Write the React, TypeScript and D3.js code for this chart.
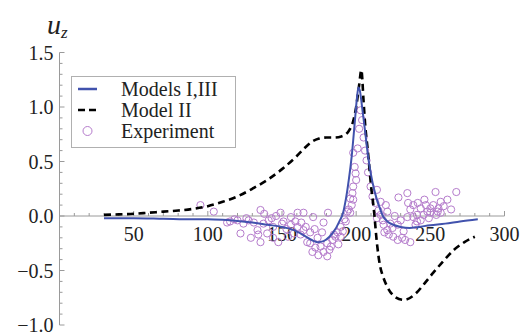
import * as d3 from "d3";

// Models I,III (solid blue)
const blueX = [30, 50, 70, 90, 100, 110, 120, 130, 140, 150, 158, 165, 170, 174, 178, 182, 186, 189, 191, 193, 195, 197, 199, 200.5, 201.5, 202.5, 204, 206, 208, 210, 212, 214, 216, 218, 221, 225, 230, 236, 242, 250, 260, 270, 282];
const blueY = [-0.02, -0.02, -0.025, -0.03, -0.03, -0.035, -0.045, -0.06, -0.08, -0.1, -0.13, -0.18, -0.22, -0.24, -0.23, -0.19, -0.12, -0.04, 0.02, 0.15, 0.33, 0.55, 0.85, 1.08, 1.18, 1.15, 1.0, 0.78, 0.55, 0.38, 0.25, 0.15, 0.07, 0.0, -0.05, -0.08, -0.1, -0.11, -0.1, -0.085, -0.07, -0.05, -0.03];

// Model II (dashed black)
const dashX = [30, 40, 50, 60, 70, 80, 90, 100, 110, 120, 130, 140, 150, 160, 165, 170, 175, 180, 185, 190, 195, 198, 200, 202, 203.5, 205, 206, 208, 210, 212, 214, 216, 218, 221, 226, 232, 241, 246, 252, 259, 266, 273, 280];
const dashY = [0.01, 0.015, 0.02, 0.03, 0.04, 0.05, 0.065, 0.09, 0.13, 0.18, 0.25, 0.33, 0.43, 0.55, 0.62, 0.68, 0.71, 0.72, 0.72, 0.73, 0.78, 0.87, 1.0, 1.2, 1.34, 1.05, 0.85, 0.58, 0.28, 0.05, -0.25, -0.45, -0.55, -0.65, -0.74, -0.77, -0.7, -0.62, -0.52, -0.41, -0.31, -0.24, -0.19];

// Experiment (open circles)
const expX = [95, 104, 113, 115, 118, 120, 122, 124, 126, 127.5, 129, 131, 133.5, 134, 135.5, 135.5, 137.5, 138, 140, 141, 143, 144, 144, 146, 147.5, 149, 150, 151, 153, 154, 156, 156, 158, 159, 160.5, 160.5, 162.5, 163, 164.5, 164.5, 166, 167, 169, 169, 170.5, 171, 172, 172.5, 174, 174.5, 176, 177, 178, 178, 180.5, 180.5, 181, 182, 183, 184, 185, 186, 187.5, 188, 189.5, 189.5, 191, 192, 193, 194, 195, 196, 196, 197, 197.5, 198, 198, 198, 199, 199.6, 200, 201, 202, 203, 204, 205, 206, 207, 208, 209.7, 211, 213, 214, 214, 215, 216.5, 216.5, 218, 218.5, 219, 220, 221, 221, 222, 223, 224.5, 225, 226, 228, 228, 228.5, 230, 231, 232, 233, 234.5, 234.5, 235, 236.5, 236.5, 238.5, 238.5, 240, 241, 241, 241.5, 243.5, 243.5, 245.5, 246, 247, 248, 249, 250, 250, 252, 253.5, 254, 255, 255.5, 257, 257, 259, 261.5, 264, 267.5];
const expY = [0.1, 0.04, -0.06, -0.05, -0.03, -0.04, -0.16, -0.07, -0.02, -0.04, -0.2, -0.06, -0.13, -0.17, 0.055, -0.24, -0.07, 0.02, -0.16, -0.04, -0.02, -0.1, -0.2, 0.0, -0.24, 0.03, -0.07, -0.05, -0.12, -0.19, -0.01, -0.08, -0.16, -0.05, 0.03, -0.1, -0.17, -0.06, 0.03, -0.13, -0.1, -0.24, -0.15, -0.25, -0.33, -0.01, -0.12, -0.29, -0.2, -0.36, -0.28, -0.15, -0.06, -0.33, -0.25, -0.37, 0.03, -0.31, -0.28, -0.22, -0.17, -0.19, -0.15, -0.26, -0.1, -0.19, -0.14, -0.03, -0.05, 0.04, 0.06, 0.03, 0.16, 0.1, 0.21, 0.15, 0.27, 0.58, 0.45, 0.39, 0.33, 0.62, 0.8, 0.97, 0.88, 0.72, 0.6, 0.51, 0.4, 0.27, 0.18, 0.12, 0.24, -0.02, 0.05, 0.13, 0.01, -0.04, -0.08, -0.15, 0.1, 0.04, -0.13, -0.17, -0.07, -0.11, -0.19, 0.0, -0.08, -0.22, 0.17, -0.04, -0.2, -0.14, -0.22, -0.01, 0.21, 0.12, 0.06, -0.24, 0.1, -0.01, -0.08, 0.01, -0.05, 0.12, 0.07, -0.04, 0.01, 0.15, 0.1, 0.04, -0.02, 0.07, 0.03, 0.1, 0.22, 0.01, 0.04, 0.07, 0.03, 0.13, 0.09, 0.15, 0.06, 0.22];

const xTicks = [50, 100, 150, 200, 250, 300];
const yTicks = [-1.0, -0.5, 0.0, 0.5, 1.0, 1.5];
const legendLabels = ["Models I,III", "Model II", "Experiment"];

const W = 521;
const H = 336;
const BLUE = "#4152ad";
const PURPLE = "#b57ccc";
const AXIS = "#9a9a9a";
const SERIF = "\"Liberation Serif\", \"DejaVu Serif\", \"Times New Roman\", Times, serif";

export default function App() {
  const x = d3.scaleLinear().domain([0, 300]).range([59.5, 504.5]);
  const y = d3.scaleLinear().domain([-1, 1.5]).range([325, 52.5]);

  const line = d3
    .line<[number, number]>()
    .x((d) => x(d[0]))
    .y((d) => y(d[1]))
    .curve(d3.curveMonotoneX);

  const bluePath = line(blueX.map((v, i) => [v, blueY[i]]))!;
  const dashPath = line(dashX.map((v, i) => [v, dashY[i]]))!;

  const xMinor = d3.range(10, 301, 10).filter((v) => v % 50 !== 0);
  const yMinor = d3.range(-10, 16).map((v) => v / 10).filter((v) => Math.round(v * 10) % 5 !== 0);
  const fmt = d3.format(".1f");
  const txt = { fontFamily: SERIF };

  return (
    <svg
      width={W}
      height={H}
      viewBox={`0 0 ${W} ${H}`}
      style={{ position: "absolute", left: 0, top: 0, background: "#fff", fontFamily: SERIF }}
    >
      {/* axes */}
      <line x1={x(0)} x2={x(300)} y1={y(0)} y2={y(0)} stroke={AXIS} strokeWidth={1} />
      <line x1={x(0)} x2={x(0)} y1={y(1.5)} y2={y(-1)} stroke={AXIS} strokeWidth={1} />
      {xTicks.map((t) => (
        <g key={"xt" + t}>
          <line x1={x(t)} x2={x(t)} y1={y(0)} y2={y(0) - 5} stroke={AXIS} />
          <text x={x(t)} y={y(0) + 25} textAnchor="middle" fontSize={20} fill="#222" style={txt}>
            {t}
          </text>
        </g>
      ))}
      {xMinor.map((t) => (
        <line key={"xm" + t} x1={x(t)} x2={x(t)} y1={y(0)} y2={y(0) - 3} stroke={AXIS} />
      ))}
      {yTicks.map((t) => (
        <g key={"yt" + t}>
          <line x1={x(0)} x2={x(0) + 5} y1={y(t)} y2={y(t)} stroke={AXIS} />
          <text x={x(0) - 6} y={y(t) + 7} textAnchor="end" fontSize={20} fill="#222" style={txt}>
            {t < 0 ? "\u2212" + fmt(-t) : fmt(t)}
          </text>
        </g>
      ))}
      {yMinor.map((t) => (
        <line key={"ym" + t} x1={x(0)} x2={x(0) + 3} y1={y(t)} y2={y(t)} stroke={AXIS} />
      ))}

      {/* axis label */}
      <text x={47} y={34} fontSize={28} fontStyle="italic" fill="#222" style={txt}>
        u
        <tspan fontSize={17} dy={4}>z</tspan>
      </text>

      {/* experiment */}
      {expX.map((v, i) => (
        <circle key={"e" + i} cx={x(v)} cy={y(expY[i])} r={3.6} fill="none" stroke={PURPLE} strokeWidth={1} />
      ))}

      {/* model curves */}
      <path d={dashPath} fill="none" stroke="#000" strokeWidth={2.6} strokeDasharray="7,4.5" />
      <path d={bluePath} fill="none" stroke={BLUE} strokeWidth={2} />

      {/* legend */}
      <g>
        <rect x={71.5} y={76.5} width={164} height={71} fill="#fff" stroke="#b0b0b0" />
        <line x1={78} x2={97} y1={89} y2={89} stroke={BLUE} strokeWidth={2.5} />
        <line x1={78} x2={97} y1={110} y2={110} stroke="#000" strokeWidth={2.5} strokeDasharray="7,4" />
        <circle cx={87.5} cy={131} r={4.5} fill="none" stroke={PURPLE} strokeWidth={1} />
        {legendLabels.map((l, i) => (
          <text key={l} x={121} y={96 + i * 21} fontSize={20} fill="#222" style={txt}>
            {l}
          </text>
        ))}
      </g>
    </svg>
  );
}
